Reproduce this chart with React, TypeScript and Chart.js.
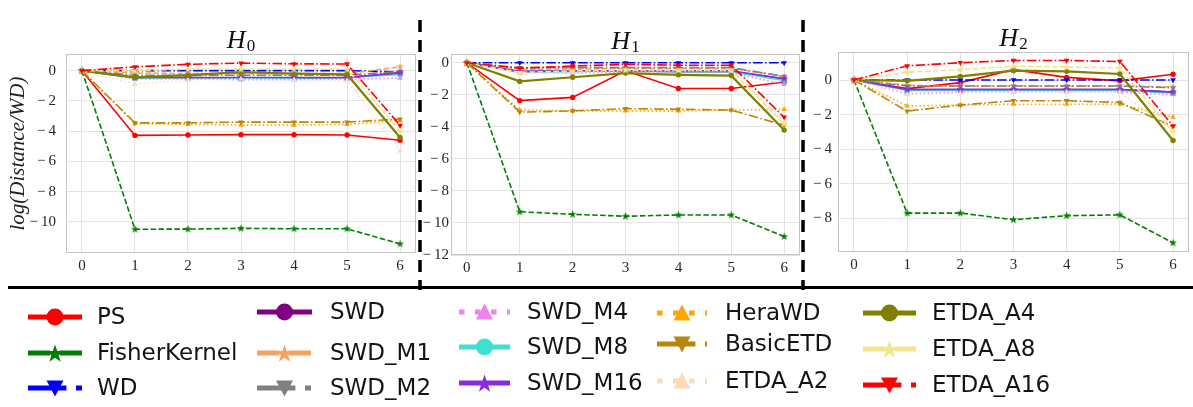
import React, { useEffect, useRef } from 'react';
import { Chart, registerables } from 'chart.js';
Chart.register(...registerables);

// ---------- data ----------
const X_STEPS = [0, 1, 2, 3, 4, 5, 6];

const SERIES = ['PS', 'FisherKernel', 'WD', 'SWD', 'SWD_M1', 'SWD_M2', 'SWD_M4', 'SWD_M8', 'SWD_M16', 'HeraWD', 'BasicETD', 'ETDA_A2', 'ETDA_A4', 'ETDA_A8', 'ETDA_A16'];

// H0 panel
const H0_PS = [0, -4.28, -4.25, -4.23, -4.23, -4.25, -4.6];
const H0_FisherKernel = [0, -10.48, -10.47, -10.42, -10.45, -10.45, -11.45];
const H0_WD = [0, 0, 0, 0, 0, 0, -0.08];
const H0_SWD = [0, -0.45, -0.45, -0.5, -0.5, -0.45, -0.15];
const H0_SWD_M1 = [0, -0.15, -0.2, -0.2, -0.2, -0.2, 0.25];
const H0_SWD_M2 = [0, -0.3, -0.3, -0.3, -0.3, -0.3, -0.05];
const H0_SWD_M4 = [0, -0.55, -0.55, -0.6, -0.6, -0.55, -0.5];
const H0_SWD_M8 = [0, -0.5, -0.45, -0.5, -0.5, -0.45, -0.25];
const H0_SWD_M16 = [0, -0.45, -0.45, -0.45, -0.45, -0.45, -0.15];
const H0_HeraWD = [0, -3.5, -3.55, -3.6, -3.6, -3.55, -3.3];
const H0_BasicETD = [0, -3.45, -3.45, -3.4, -3.4, -3.4, -3.2];
const H0_ETDA_A2 = [0, -0.9, -0.6, -0.55, -0.6, -0.65, -5.3];
const H0_ETDA_A4 = [0, -0.45, -0.3, -0.1, -0.2, -0.25, -4.42];
const H0_ETDA_A8 = [0, 0, 0.1, 0.1, 0.1, 0.1, -4.0];
const H0_ETDA_A16 = [0, 0.25, 0.42, 0.5, 0.45, 0.44, -3.62];

// H1 panel
const H1_PS = [0, -2.36, -2.16, -0.5, -1.6, -1.6, -1.2];
const H1_FisherKernel = [0, -9.3, -9.46, -9.58, -9.5, -9.5, -10.85];
const H1_WD = [0, 0, 0, 0, 0, 0, 0];
const H1_SWD = [0, -0.55, -0.5, -0.5, -0.55, -0.55, -1.0];
const H1_SWD_M1 = [0, -0.4, -0.4, -0.35, -0.35, -0.35, -0.85];
const H1_SWD_M2 = [0, -0.3, -0.3, -0.3, -0.3, -0.3, -0.85];
const H1_SWD_M4 = [0, -0.6, -0.65, -0.55, -0.6, -0.6, -1.35];
const H1_SWD_M8 = [0, -0.6, -0.55, -0.5, -0.55, -0.55, -1.1];
const H1_SWD_M16 = [0, -0.55, -0.5, -0.5, -0.5, -0.5, -1.0];
const H1_HeraWD = [0, -2.95, -3.0, -3.0, -3.0, -2.95, -2.9];
const H1_BasicETD = [0, -3.08, -3.0, -2.86, -2.9, -2.95, -3.9];
const H1_ETDA_A2 = [0, -0.7, -0.6, -0.5, -0.5, -0.5, -3.7];
const H1_ETDA_A4 = [0, -1.16, -0.9, -0.64, -0.75, -0.8, -4.2];
const H1_ETDA_A8 = [0, -0.6, -0.5, -0.45, -0.45, -0.45, -3.8];
const H1_ETDA_A16 = [0, -0.34, -0.2, -0.1, -0.15, -0.15, -3.4];

// H2 panel
const H2_PS = [0, -0.5, -0.15, 0.6, 0.15, -0.05, 0.33];
const H2_FisherKernel = [0, -7.7, -7.7, -8.08, -7.85, -7.8, -9.42];
const H2_WD = [0, 0, 0, 0, 0, 0, 0];
const H2_SWD = [0, -0.55, -0.55, -0.55, -0.55, -0.55, -0.7];
const H2_SWD_M1 = [0, -0.3, -0.35, -0.35, -0.35, -0.35, -0.4];
const H2_SWD_M2 = [0, -0.35, -0.35, -0.35, -0.35, -0.35, -0.45];
const H2_SWD_M4 = [0, -0.8, -0.7, -0.7, -0.7, -0.7, -0.85];
const H2_SWD_M8 = [0, -0.6, -0.6, -0.6, -0.6, -0.6, -0.75];
const H2_SWD_M16 = [0, -0.55, -0.55, -0.55, -0.55, -0.55, -0.7];
const H2_HeraWD = [0, -1.5, -1.45, -1.4, -1.4, -1.4, -2.14];
const H2_BasicETD = [0, -1.8, -1.45, -1.2, -1.2, -1.3, -2.7];
const H2_ETDA_A2 = [0, -0.85, -0.75, -0.7, -0.7, -0.7, -2.9];
const H2_ETDA_A4 = [0, -0.05, 0.21, 0.54, 0.5, 0.35, -3.5];
const H2_ETDA_A8 = [0, 0.45, 0.6, 0.8, 0.75, 0.7, -3.0];
const H2_ETDA_A16 = [0, 0.82, 1.0, 1.13, 1.13, 1.07, -2.66];

const H0_VALUES = [H0_PS, H0_FisherKernel, H0_WD, H0_SWD, H0_SWD_M1, H0_SWD_M2, H0_SWD_M4, H0_SWD_M8, H0_SWD_M16, H0_HeraWD, H0_BasicETD, H0_ETDA_A2, H0_ETDA_A4, H0_ETDA_A8, H0_ETDA_A16];
const H1_VALUES = [H1_PS, H1_FisherKernel, H1_WD, H1_SWD, H1_SWD_M1, H1_SWD_M2, H1_SWD_M4, H1_SWD_M8, H1_SWD_M16, H1_HeraWD, H1_BasicETD, H1_ETDA_A2, H1_ETDA_A4, H1_ETDA_A8, H1_ETDA_A16];
const H2_VALUES = [H2_PS, H2_FisherKernel, H2_WD, H2_SWD, H2_SWD_M1, H2_SWD_M2, H2_SWD_M4, H2_SWD_M8, H2_SWD_M16, H2_HeraWD, H2_BasicETD, H2_ETDA_A2, H2_ETDA_A4, H2_ETDA_A8, H2_ETDA_A16];

const H0_Y_TICKS = [0, -2, -4, -6, -8, -10];
const H1_Y_TICKS = [0, -2, -4, -6, -8, -10, -12];
const H2_Y_TICKS = [0, -2, -4, -6, -8];

const Y_TITLE = 'log(Distance/WD)';

// ---------- styles ----------
const COLORS = ['#ff0000', '#008000', '#0000ff', '#800080', '#f4a460', '#808080', '#ee82ee', '#40e0d0', '#8a2be2', '#ffa500', '#b8860b', '#ffdab9', '#808000', '#f0e68c', '#ff0000'];
const LINESTYLES = ['solid', 'dashed', 'dashdot', 'solid', 'dashed', 'dashdot', 'dotted', 'solid', 'solid', 'dotted', 'dashdot', 'dotted', 'solid', 'dashed', 'dashdot'];
const MARKERS = ['circle', 'star', 'down', 'circle', 'star', 'down', 'up', 'circle', 'star', 'up', 'down', 'up', 'circle', 'star', 'down'];

const dashFor = (style: string, lw: number): number[] => {
  if (style === 'dashed') return [3.7 * lw, 1.6 * lw];
  if (style === 'dashdot') return [6.4 * lw, 1.6 * lw, 1.0 * lw, 1.6 * lw];
  if (style === 'dotted') return [1.0 * lw, 1.65 * lw];
  return [];
};

const legendDash = (style: string): number[] => {
  if (style === 'dotted') return [5.5, 10.5];
  return dashFor(style, 6);
};

const SERIF = '"Liberation Serif", "Times New Roman", serif';
const GRID = '#e3e3e3';
const SPINE = '#c4c4c4';

const fmtTick = (v: number) => (v < 0 ? '\u2212\u2009' + Math.abs(v) : String(v));

function starCanvas(color: string, R: number) {
  const s = Math.ceil(R * 2) + 2;
  const c = document.createElement('canvas');
  c.width = s;
  c.height = s;
  const ctx = c.getContext('2d')!;
  ctx.beginPath();
  for (let k = 0; k < 10; k++) {
    const r = k % 2 === 0 ? R : R * 0.4;
    const a = -Math.PI / 2 + (k * Math.PI) / 5;
    const x = s / 2 + r * Math.cos(a);
    const y = s / 2 + r * Math.sin(a);
    if (k === 0) ctx.moveTo(x, y);
    else ctx.lineTo(x, y);
  }
  ctx.closePath();
  ctx.fillStyle = color;
  ctx.fill();
  return c;
}

const framePlugin = {
  id: 'frame',
  beforeDatasetsDraw(chart: any) {
    const { ctx, chartArea: a } = chart;
    ctx.save();
    ctx.strokeStyle = SPINE;
    ctx.lineWidth = 1;
    ctx.strokeRect(a.left + 0.5, a.top + 0.5, a.right - a.left - 1, a.bottom - a.top - 1);
    ctx.restore();
  },
};

const titlePlugin = {
  id: 'panelTitle',
  afterDraw(chart: any, _args: any, opts: any) {
    if (!opts || !opts.sub) return;
    const { ctx, chartArea: a } = chart;
    const cx = (a.left + a.right) / 2;
    ctx.save();
    ctx.fillStyle = '#111';
    ctx.textBaseline = 'alphabetic';
    ctx.font = `italic 26px ${SERIF}`;
    const wH = ctx.measureText('H').width;
    ctx.font = `17px ${SERIF}`;
    const wS = ctx.measureText(opts.sub).width;
    const x0 = cx - (wH + 1 + wS) / 2;
    ctx.font = `italic 26px ${SERIF}`;
    ctx.fillText('H', x0, opts.baseline);
    ctx.font = `17px ${SERIF}`;
    ctx.fillText(opts.sub, x0 + wH + 1, opts.baseline + 3);
    ctx.restore();
  },
};

type Panel = {
  values: number[][];
  sub: string;
  width: number;
  top: number;
  bottom: number;
  yw: number;
  yMin: number;
  yMax: number;
  xMin: number;
  xMax: number;
  yTicks: number[];
  tickPad: number;
  baseline: number;
  yTitle: boolean;
};

const CANVAS_H = 290;

function buildChart(canvas: HTMLCanvasElement, p: Panel) {
  const n = SERIES.length;
  const datasets = SERIES.map((name, i) => {
    const color = COLORS[i];
    const lw = i === 12 ? 2.2 : 1.6;
    const m = MARKERS[i];
    return {
      label: name,
      data: p.values[i].map((y, k) => ({ x: X_STEPS[k], y })),
      borderColor: color,
      backgroundColor: color,
      borderWidth: lw,
      borderDash: dashFor(LINESTYLES[i], 1.5),
      pointStyle: m === 'star' ? starCanvas(color, 4.2) : m === 'circle' ? 'circle' : 'triangle',
      pointRotation: m === 'down' ? 180 : 0,
      pointRadius: m === 'circle' ? 2.7 : 3.3,
      pointBorderWidth: 0,
      pointBackgroundColor: color,
      tension: 0,
      fill: false,
      order: n - i,
    };
  });
  const tickFont = { family: SERIF, size: 15 };
  return new Chart(canvas, {
    type: 'line',
    data: { datasets } as any,
    plugins: [framePlugin, titlePlugin],
    options: {
      responsive: false,
      animation: false,
      devicePixelRatio: 1,
      layout: { padding: { top: p.top, left: 0, right: 0, bottom: 0 } },
      plugins: {
        legend: { display: false },
        tooltip: { enabled: false },
        panelTitle: { sub: p.sub, baseline: p.baseline },
      } as any,
      scales: {
        x: {
          type: 'linear',
          min: p.xMin,
          max: p.xMax,
          afterBuildTicks: (s: any) => {
            s.ticks = X_STEPS.map((v) => ({ value: v }));
          },
          afterFit: (s: any) => {
            s.height = CANVAS_H - p.bottom;
            s.paddingLeft = 0;
            s.paddingRight = 0;
          },
          grid: { color: GRID, lineWidth: 1, drawTicks: false },
          border: { display: false },
          ticks: { font: tickFont, color: '#262626', padding: 4, maxRotation: 0, autoSkip: false, callback: (v: any) => String(v) },
        },
        y: {
          type: 'linear',
          min: p.yMin,
          max: p.yMax,
          afterBuildTicks: (s: any) => {
            s.ticks = p.yTicks.map((v) => ({ value: v }));
          },
          afterFit: (s: any) => {
            s.width = p.yw;
            s.paddingTop = 0;
            s.paddingBottom = 0;
          },
          grid: { color: GRID, lineWidth: 1, drawTicks: false },
          border: { display: false },
          ticks: { font: tickFont, color: '#262626', padding: p.tickPad, autoSkip: false, callback: (v: any) => fmtTick(Number(v)) },
          title: {
            display: p.yTitle,
            text: Y_TITLE,
            color: '#222',
            font: { family: SERIF, size: 21, style: 'italic' },
            padding: { top: 6, bottom: 0 },
          },
        },
      },
    } as any,
  });
}

const PANELS: { left: number; panel: Panel }[] = [
  {
    left: 0,
    panel: { values: H0_VALUES, sub: '0', width: 420, top: 54, bottom: 253, yw: 66, yMin: -12.05, yMax: 1.1, xMin: -0.3, xMax: 6.3, yTicks: H0_Y_TICKS, tickPad: 10, baseline: 48, yTitle: true },
  },
  {
    left: 422,
    panel: { values: H1_VALUES, sub: '1', width: 382, top: 54, bottom: 255, yw: 29, yMin: -12, yMax: 0.55, xMin: -0.3, xMax: 6.3, yTicks: H1_Y_TICKS, tickPad: 2, baseline: 49, yTitle: false },
  },
  {
    left: 806,
    panel: { values: H2_VALUES, sub: '2', width: 387, top: 52, bottom: 252, yw: 32, yMin: -9.95, yMax: 1.62, xMin: -0.3, xMax: 6.3, yTicks: H2_Y_TICKS, tickPad: 6, baseline: 46, yTitle: false },
  },
];

// legend layout
const LEGEND_COLS = [
  { x: 28, len: 54, tx: 97, ys: [317, 353, 388] },
  { x: 257, len: 55, tx: 330, ys: [312, 353, 388] },
  { x: 459, len: 51, tx: 527, ys: [312, 347, 383] },
  { x: 657, len: 50, tx: 725, ys: [313, 344, 381] },
  { x: 863, len: 53, tx: 932, ys: [313, 349, 385] },
];

function markerShape(kind: string, cx: number, cy: number, color: string, key: string) {
  if (kind === 'circle') return <circle key={key} cx={cx} cy={cy} r={8.5} fill={color} />;
  if (kind === 'star') {
    const R = 9.5;
    const pts: string[] = [];
    for (let k = 0; k < 10; k++) {
      const r = k % 2 === 0 ? R : R * 0.4;
      const a = -Math.PI / 2 + (k * Math.PI) / 5;
      pts.push(`${(cx + r * Math.cos(a)).toFixed(2)},${(cy + 1 + r * Math.sin(a)).toFixed(2)}`);
    }
    return <polygon key={key} points={pts.join(' ')} fill={color} />;
  }
  const r = 8.5;
  if (kind === 'down') return <polygon key={key} points={`${cx - r},${cy - r + 1} ${cx + r},${cy - r + 1} ${cx},${cy + r}`} fill={color} />;
  return <polygon key={key} points={`${cx},${cy - r} ${cx - r},${cy + r - 1} ${cx + r},${cy + r - 1}`} fill={color} />;
}

function Legend() {
  const items: any[] = [];
  SERIES.forEach((name, i) => {
    const col = LEGEND_COLS[Math.floor(i / 3)];
    const y = col.ys[i % 3];
    const color = COLORS[i];
    const dash = legendDash(LINESTYLES[i]);
    items.push(
      <line
        key={`l${i}`}
        x1={col.x}
        y1={y}
        x2={col.x + col.len}
        y2={y}
        stroke={color}
        strokeWidth={5}
        strokeDasharray={dash.length ? dash.join(' ') : undefined}
      />
    );
    items.push(markerShape(MARKERS[i], col.x + col.len / 2, y, color, `m${i}`));
    items.push(
      <text key={`t${i}`} x={col.tx} y={y - 1} dominantBaseline="central" fontFamily='"DejaVu Sans", sans-serif' fontSize={23} fill="#141414">
        {name}
      </text>
    );
  });
  return <>{items}</>;
}

export default function App() {
  const r0 = useRef<HTMLCanvasElement>(null);
  const r1 = useRef<HTMLCanvasElement>(null);
  const r2 = useRef<HTMLCanvasElement>(null);
  useEffect(() => {
    const refs = [r0, r1, r2];
    const charts = PANELS.map((p, i) => buildChart(refs[i].current!, p.panel));
    return () => charts.forEach((c) => c.destroy());
  }, []);
  const refs = [r0, r1, r2];
  return (
    <div style={{ position: 'absolute', left: 0, top: 0, width: 1193, height: 407, background: '#fff', overflow: 'hidden' }}>
      {PANELS.map((p, i) => (
        <canvas
          key={i}
          ref={refs[i]}
          width={p.panel.width}
          height={CANVAS_H}
          style={{ position: 'absolute', left: p.left, top: 0, width: p.panel.width, height: CANVAS_H }}
        />
      ))}
      <svg width={1193} height={407} style={{ position: 'absolute', left: 0, top: 0, pointerEvents: 'none' }}>
        <line x1={420} y1={20} x2={420} y2={290} stroke="#000" strokeWidth={3.5} strokeDasharray="12 8" />
        <line x1={803} y1={20} x2={803} y2={290} stroke="#000" strokeWidth={3.5} strokeDasharray="12 8" />
        <line x1={8} y1={287.5} x2={1193} y2={287.5} stroke="#000" strokeWidth={3} />
        <Legend />
      </svg>
    </div>
  );
}
